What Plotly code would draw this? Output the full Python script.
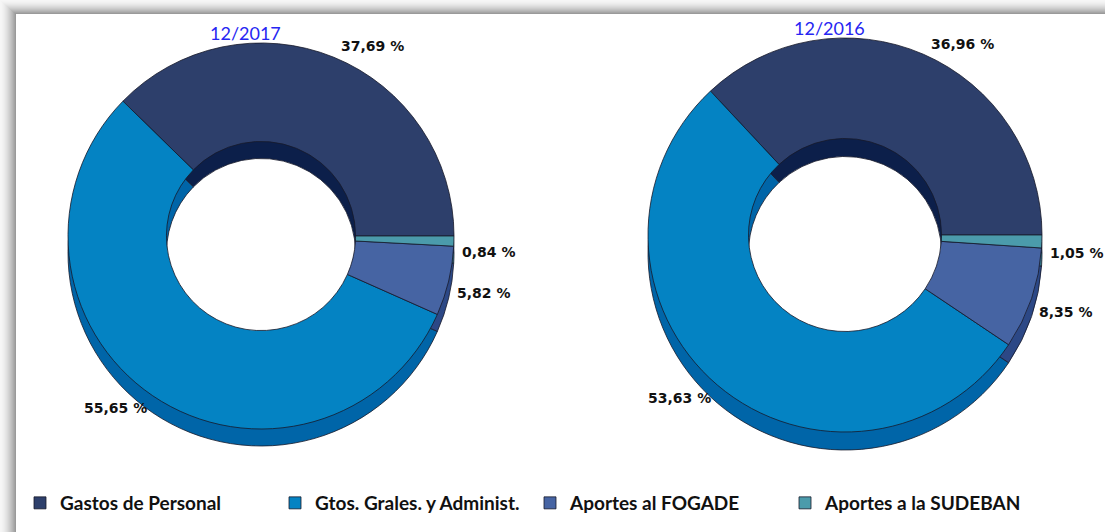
import math
import plotly.graph_objects as go

W, H = 1105, 532

# ---- data -------------------------------------------------------------
categories = ["Gastos de Personal", "Gtos. Grales. y Administ.",
              "Aportes al FOGADE", "Aportes a la SUDEBAN"]
periods = ["12/2017", "12/2016"]
values_2017 = [37.69, 55.65, 5.82, 0.84]
values_2016 = [36.96, 53.63, 8.35, 1.05]

# ---- styling ----------------------------------------------------------
top_colors = ["#2d3f6b", "#0483c3", "#4664a3", "#4b9bab"]
side_colors = ["#0c1f4a", "#0065a8", "#2c4886", "#2f7585"]
edge = dict(color="#16192a", width=0.8)
HOLE = 0.49
LABEL_FONT = dict(family="DejaVu Sans", size=14, color="#111111",
                  weight="bold")

# pixel geometry of each donut: centre, radius, extrusion depth
geoms = [dict(cx=261, cy=236, r=193, depth=17),
         dict(cx=845, cy=235, r=197, depth=18)]


def domain(cx, cy, r):
    return dict(x=[(cx - r) / W, (cx + r) / W],
                y=[1 - (cy + r) / H, 1 - (cy - r) / H])


def pct(v):
    return f"{v:.2f}".replace(".", ",") + " %"


fig = go.Figure()
annotations = []

for i, (period, vals) in enumerate(zip(periods, [values_2017, values_2016])):
    g = geoms[i]
    total = sum(vals)
    # slices run counterclockwise, the first one ending at 3 o'clock
    rot = 90 - 360 * vals[0] / total
    common = dict(labels=categories, values=vals, hole=HOLE, sort=False,
                  direction="counterclockwise", rotation=rot,
                  textinfo="none")
    # extruded side: same donut in darker tones, pushed down by the depth
    fig.add_trace(go.Pie(
        **common, hoverinfo="skip", showlegend=False,
        marker=dict(colors=side_colors, line=edge),
        domain=domain(g["cx"], g["cy"] + g["depth"], g["r"])))
    # top face
    fig.add_trace(go.Pie(
        **common, name=period, showlegend=(i == 0),
        hovertemplate="%{label}: %{value:.2f} %<extra>" + period + "</extra>",
        marker=dict(colors=top_colors, line=edge),
        domain=domain(g["cx"], g["cy"], g["r"])))

    # period title above the donut
    annotations.append(dict(
        text=period, x=(g["cx"] - 16) / W, y=1 - (g["cy"] - g["r"] - 10) / H,
        xref="paper", yref="paper", showarrow=False, xanchor="center",
        yanchor="middle",
        font=dict(family="Lato", size=18, color="#2626f2")))

    # value labels just outside each slice, at the slice mid-angle;
    # lower labels drop a little to clear the extruded side
    cum = 0.0
    for v in vals:
        mid = 2 * math.pi * (cum + v / 2) / total
        cum += v
        c, s = math.cos(mid), math.sin(mid)
        rr = g["r"] + 6 + 8 * max(0.0, s)
        px = g["cx"] + rr * c
        py = (g["cy"] - rr * s
              + g["depth"] * (0.6 * c * c + 0.3 * max(0.0, -s)))
        xa = "left" if c > 0.1 else ("right" if c < -0.1 else "center")
        annotations.append(dict(
            text=pct(v), x=px / W, y=1 - py / H, xref="paper", yref="paper",
            showarrow=False, xanchor=xa, yanchor="middle", font=LABEL_FONT))

# ---- panel shadow along the top and left edges ------------------------
shapes = []
LEFT, TOP = 16, 14


def grey(t):
    lvl = int(round(246 - 92 * t ** 1.6))
    return f"rgb({lvl},{lvl},{lvl})"


for k in range(LEFT):
    shapes.append(dict(type="rect", xref="paper", yref="paper",
                       x0=k / W, x1=(k + 1) / W,
                       y0=0, y1=1 - (k * TOP / LEFT) / H,
                       fillcolor=grey(k / (LEFT - 1)), line=dict(width=0),
                       layer="below"))
for k in range(TOP):
    shapes.append(dict(type="rect", xref="paper", yref="paper",
                       x0=(k * LEFT / TOP) / W, x1=1,
                       y0=1 - (k + 1) / H, y1=1 - k / H,
                       fillcolor=grey(k / (TOP - 1)), line=dict(width=0),
                       layer="below"))

fig.update_layout(
    width=W, height=H,
    margin=dict(l=0, r=0, t=0, b=0),
    paper_bgcolor="white", plot_bgcolor="white",
    annotations=annotations, shapes=shapes,
    legend=dict(orientation="h", x=20 / W, xanchor="left",
                y=1 - 503 / H, yanchor="middle",
                entrywidth=210, entrywidthmode="pixels",
                font=dict(family="Lato", size=19, color="#111111",
                          weight="bold"),
                bgcolor="rgba(0,0,0,0)"),
)

fig.write_html("out.html")
